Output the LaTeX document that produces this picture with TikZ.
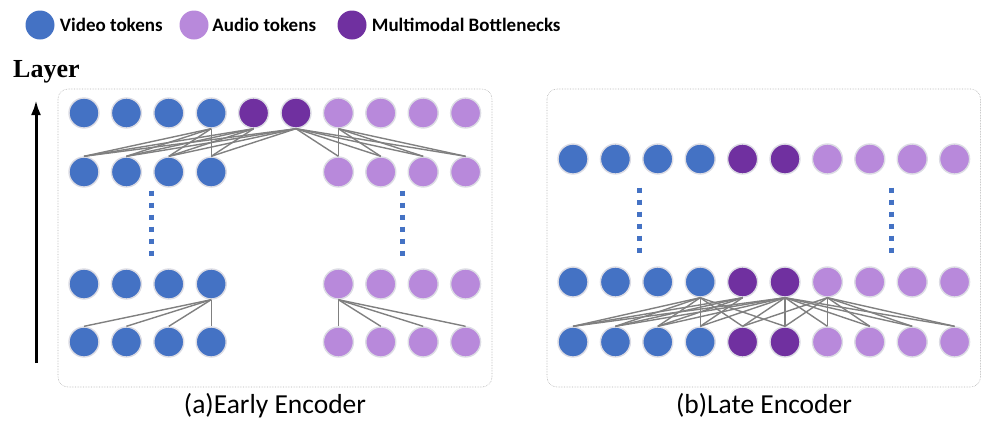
\documentclass[tikz,border=0pt]{standalone}
\usepackage{fontspec}
\setmainfont{Carlito}
\newfontfamily\serifbold{Liberation Serif}
\usepackage{xcolor}
\usetikzlibrary{positioning,arrows.meta}
\definecolor{vidblue}{RGB}{68,114,196}
\definecolor{audlilac}{RGB}{184,137,219}
\definecolor{mmbpurple}{RGB}{112,48,160}
\definecolor{halo}{RGB}{220,220,228}
\definecolor{linkgray}{RGB}{128,128,128}

\tikzset{
  tok/.style={circle,minimum size=30pt,inner sep=0pt,draw=halo,line width=1.4pt},
  legdot/.style={circle,minimum size=29pt,inner sep=0pt,fill=#1},
  legtext/.style={inner sep=0pt,font=\bfseries\fontsize{19}{19}\selectfont},
  link/.style={draw=linkgray,line width=1.4pt},
  panel/.style={rounded corners=10pt,draw=black!30,densely dotted,line width=0.6pt},
  dots/.style={draw=vidblue,line width=5pt,dash pattern=on 5pt off 7pt},
  caption/.style={anchor=base,inner sep=0pt,font=\fontsize{27.5}{27.5}\selectfont}
}

\def\fullrow{1/vidblue,2/vidblue,3/vidblue,4/vidblue,5/mmbpurple,6/mmbpurple,7/audlilac,8/audlilac,9/audlilac,10/audlilac}
\def\splitrow{1/vidblue,2/vidblue,3/vidblue,4/vidblue,7/audlilac,8/audlilac,9/audlilac,10/audlilac}

\begin{document}
\begin{tikzpicture}[x=1pt,y=-1pt,>={Latex[length=15pt,width=10pt]}]
  \useasboundingbox (0,0) rectangle (982,421);

  \node[legdot=vidblue] (kv) at (40,25) {};
  \node[legtext,right=5pt of kv] (kvt) {Video tokens};
  \node[legdot=audlilac] (ka) at (194,25) {};
  \node[legtext,right=3.5pt of ka] (kat) {Audio tokens};
  \node[legdot=mmbpurple] (kb) at (352,25) {};
  \node[legtext,right=5pt of kb] (kbt) {Multimodal Bottlenecks};

  \node[anchor=base west,inner sep=0pt,font=\serifbold\bfseries\fontsize{26}{26}\selectfont] (lyr) at (13,77) {Layer};
  \coordinate (arrlo) at (36,363);
  \coordinate (arrhi) at (36,100);
  \draw[->,line width=3pt] (arrlo) -- (arrhi);

  \draw[panel] (58,89) rectangle (492,387);
  \draw[panel] (547,89) rectangle (980.5,387);

  \foreach \i/\c in \fullrow {
    \node[tok,fill=\c] (ea\i) at ({84+42.4*(\i-1)},113) {};
    \node[tok,fill=\c] (la\i) at ({573+42.4*(\i-1)},159) {};
    \node[tok,fill=\c] (lb\i) at ({573+42.4*(\i-1)},282) {};
    \node[tok,fill=\c] (lc\i) at ({573+42.4*(\i-1)},342) {};
  }
  \foreach \i/\c in \splitrow {
    \node[tok,fill=\c] (eb\i) at ({84+42.4*(\i-1)},172) {};
    \node[tok,fill=\c] (ec\i) at ({84+42.4*(\i-1)},284) {};
    \node[tok,fill=\c] (ed\i) at ({84+42.4*(\i-1)},342) {};
  }

  \foreach \t in {4,5,6}
    \foreach \b in {1,...,4}
      \draw[link] (eb\b.north) -- (ea\t.south);
  \foreach \t in {6,7}
    \foreach \b in {7,...,10}
      \draw[link] (eb\b.north) -- (ea\t.south);
  \foreach \b in {1,...,4}
    \draw[link] (ed\b.north) -- (ec4.south);
  \foreach \b in {7,...,10}
    \draw[link] (ed\b.north) -- (ec7.south);

  \foreach \b in {1,...,6}
    \draw[link] (lc\b.north) -- (lb4.south);
  \foreach \b in {1,...,4}
    \draw[link] (lc\b.north) -- (lb5.south);
  \foreach \b in {1,...,10}
    \draw[link] (lc\b.north) -- (lb6.south);
  \foreach \b in {5,...,10}
    \draw[link] (lc\b.north) -- (lb7.south);

  \draw[dots] (151,190.5) -- (151,256);
  \draw[dots] (402,190.5) -- (402,256);
  \draw[dots] (639,187.5) -- (639,253);
  \draw[dots] (891,187.5) -- (891,253);

  \node[caption] (capa) at (275,413) {(a)Early Encoder};
  \node[caption] (capb) at (764,413) {(b)Late Encoder};
\end{tikzpicture}
\end{document}
